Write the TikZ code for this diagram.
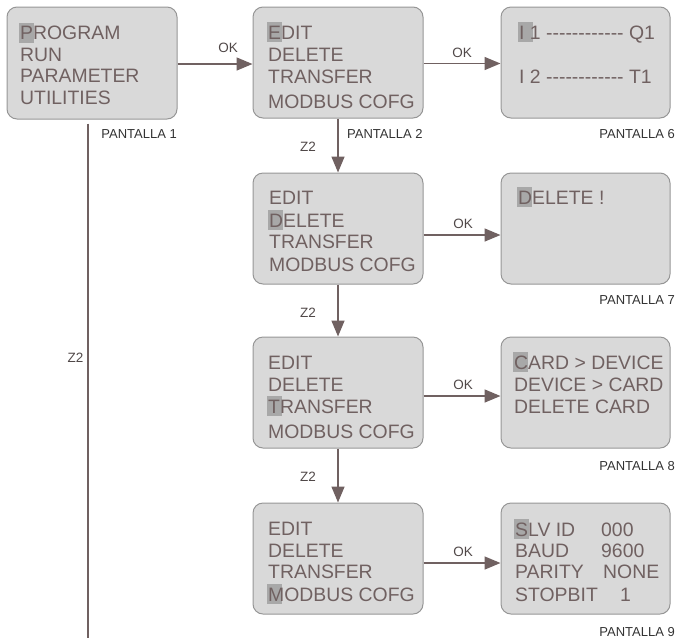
\documentclass[tikz,border=0pt]{standalone}
\usepackage{fontspec}
\setmainfont{Liberation Sans}[Ligatures=TeXOff]
\usetikzlibrary{arrows.meta}
\definecolor{txt}{RGB}{112,97,97}
\definecolor{arr}{RGB}{112,97,97}
\definecolor{boxfill}{RGB}{217,217,217}
\definecolor{boxline}{RGB}{150,150,150}
\definecolor{hlgray}{RGB}{168,168,168}
\definecolor{lbl}{RGB}{51,51,51}
\definecolor{oklbl}{RGB}{80,72,72}
\newcommand\hlc[1]{\makebox[0pt][l]{\hspace{-1.5pt}\textcolor{hlgray}{\rule[-3pt]{15pt}{20pt}}}#1}
\begin{document}
\begin{tikzpicture}[x=1pt,y=-1pt,
 scr/.style={draw=boxline, fill=boxfill, line width=1pt, rounded corners=10pt, minimum width=170pt, minimum height=111pt, inner sep=0pt},
 mt/.style={anchor=base west, inner sep=0pt, text=txt, font=\fontsize{19.4}{22}\selectfont},
 lb/.style={inner sep=0pt, text=lbl, font=\fontsize{13}{15}\selectfont},
 ok/.style={inner sep=0pt, text=oklbl, font=\fontsize{13.5}{15}\selectfont},
 flow/.style={draw=arr, line width=1.5pt, -{Triangle[length=16pt,width=13pt]}},
 plain/.style={draw=arr, line width=1.5pt}
]
\useasboundingbox (0,0) rectangle (676,638);

% screens
\node[scr, minimum height=112pt] (b1) at (92,63) {};
\node[scr] (b2) at (338,62.5) {};
\node[scr, minimum width=169pt] (b6) at (585.5,62.5) {};
\node[scr] (b3) at (338,228.5) {};
\node[scr, minimum width=169pt] (b7) at (585.5,228.5) {};
\node[scr] (b4) at (338,392.5) {};
\node[scr, minimum width=169pt] (b8) at (585.5,392.5) {};
\node[scr] (b5) at (338,558.5) {};
\node[scr, minimum width=169pt] (b9) at (585.5,558.5) {};

% screen 1
\node[mt] (t11) at (20,39.5) {\hlc{P}ROGRAM};
\node[mt] (t12) at (20,61) {RUN};
\node[mt] (t13) at (20,82.5) {PARAMETER};
\node[mt] (t14) at (20,104) {UTILITIES};

% screen 2
\node[mt] (t21) at (268,39) {\hlc{E}DIT};
\node[mt] (t22) at (268,61) {DELETE};
\node[mt] (t23) at (268,83) {TRANSFER};
\node[mt] (t24) at (268,108) {MODBUS COFG};

% screen 3
\node[mt] (t31) at (269,204) {EDIT};
\node[mt] (t32) at (269,227) {\hlc{D}ELETE};
\node[mt] (t33) at (269,248) {TRANSFER};
\node[mt] (t34) at (269,271) {MODBUS COFG};

% screen 4
\node[mt] (t41) at (268,369) {EDIT};
\node[mt] (t42) at (268,391) {DELETE};
\node[mt] (t43) at (268,413) {\hlc{T}RANSFER};
\node[mt] (t44) at (268,438) {MODBUS COFG};

% screen 5
\node[mt] (t51) at (268,535) {EDIT};
\node[mt] (t52) at (268,557) {DELETE};
\node[mt] (t53) at (268,578) {TRANSFER};
\node[mt] (t54) at (268,601) {\hlc{M}ODBUS COFG};

% screen 6
\node[mt] (t61) at (519,39) {\hlc{I} 1 ------------ Q1};
\node[mt] (t62) at (519,83) {I 2 ------------ T1};

% screen 7
\node[mt] (t71) at (518,204) {\hlc{D}ELETE !};

% screen 8
\node[mt] (t81) at (514,369) {\hlc{C}ARD > DEVICE};
\node[mt] (t82) at (514,391) {DEVICE > CARD};
\node[mt] (t83) at (514,413) {DELETE CARD};

% screen 9
\node[mt] (t91) at (515,536) {\hlc{S}LV ID};
\node[mt] (v91) at (601,536) {000};
\node[mt] (t92) at (515,557) {BAUD};
\node[mt] (v92) at (601,557) {9600};
\node[mt] (t93) at (515,578) {PARITY};
\node[mt] (v93) at (603,578) {NONE};
\node[mt] (t94) at (515,601) {STOPBIT};
\node[mt] (v94) at (620,601) {1};

% labels
\node[lb, anchor=east] (p1) at (177,134) {PANTALLA 1};
\node[lb, anchor=west] (p2) at (347,134) {PANTALLA 2};
\node[lb, anchor=east] (p6) at (675,134) {PANTALLA 6};
\node[lb, anchor=east] (p7) at (675,300) {PANTALLA 7};
\node[lb, anchor=east] (p8) at (675,466) {PANTALLA 8};
\node[lb, anchor=east] (p9) at (675,632) {PANTALLA 9};

% connectors
\draw[flow] ([yshift=-1pt]b1.east) -- ([yshift=-1pt]b1.east -| b2.west);
\draw[flow] ([yshift=-1pt]b2.east) -- ([yshift=-1pt]b6.west);
\draw[flow] ([yshift=-6.5pt]b3.east) -- ([yshift=-6.5pt]b7.west);
\draw[flow] ([yshift=-3.5pt]b4.east) -- ([yshift=-3.5pt]b8.west);
\draw[flow] ([yshift=-4.5pt]b5.east) -- ([yshift=-4.5pt]b9.west);
\draw[flow] (b2.south) -- (b3.north);
\draw[flow] (b3.south) -- (b4.north);
\draw[flow] (b4.south) -- (b5.north);
\coordinate (z2end) at (88,638);
\draw[plain] ([xshift=-4pt,yshift=-4pt]b1.south) -- (z2end);

\node[ok] (ok1) at (228,48) {OK};
\node[ok] (ok2) at (462,52.5) {OK};
\node[ok] (ok3) at (463,224) {OK};
\node[ok] (ok4) at (463,385) {OK};
\node[ok] (ok5) at (463,552) {OK};
\node[ok] (z21) at (308,147) {Z2};
\node[ok] (z22) at (308,313) {Z2};
\node[ok] (z23) at (308,477) {Z2};
\node[ok] (z2big) at (75.5,357.5) {Z2};
\end{tikzpicture}
\end{document}
